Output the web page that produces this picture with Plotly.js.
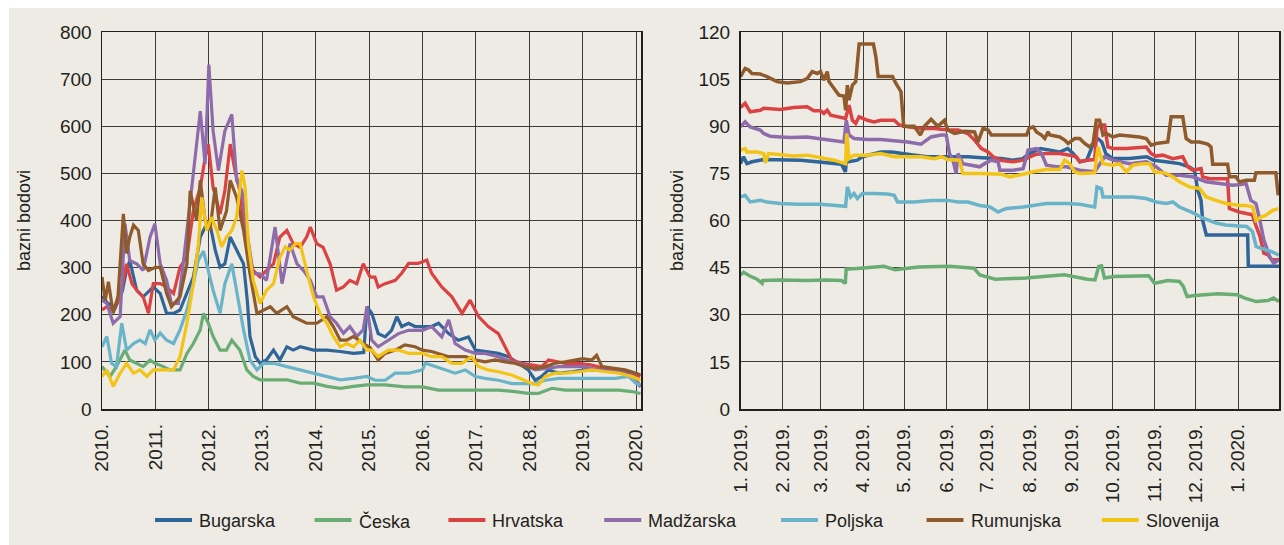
<!DOCTYPE html>
<html>
<head>
<meta charset="utf-8">
<script src="https://cdn.plot.ly/plotly-3.0.1.min.js"></script>
<style>
html,body{margin:0;padding:0;background:#fff;}
#chart{width:1284px;height:545px;}
</style>
</head>
<body>
<div id="chart"></div>
<script>
// ---------- DATA ----------
const SERIES = ['Bugarska','Česka','Hrvatska','Madžarska','Poljska','Rumunjska','Slovenija'];
const COLORS = ['#2f6598','#6aad74','#da4243','#8e6cab','#6ab4c9','#8f5b2c','#f3c418'];

// Left panel: time in years, values in basis points
const YEARS = [2010,2011,2012,2013,2014,2015,2016,2017,2018,2019,2020];
const YEAR_LABELS = ['2010.','2011.','2012.','2013.','2014.','2015.','2016.','2017.','2018.','2019.','2020.'];

const bg_t = [2010.0,2010.1,2010.25,2010.38,2010.45,2010.52,2010.65,2010.77,2010.96,2011.09,2011.21,2011.34,2011.46,2011.59,2011.71,2011.84,2011.93,2012.02,2012.12,2012.21,2012.30,2012.40,2012.52,2012.65,2012.72,2012.77,2012.87,2012.96,2013.08,2013.21,2013.33,2013.46,2013.58,2013.71,2013.96,2014.21,2014.46,2014.71,2014.9,2014.96,2015.05,2015.17,2015.30,2015.42,2015.52,2015.61,2015.74,2015.86,2016.0,2016.17,2016.30,2016.49,2016.67,2016.86,2016.99,2017.17,2017.42,2017.61,2017.80,2017.98,2018.11,2018.23,2018.36,2018.55,2018.80,2019.04,2019.29,2019.61,2019.86,2020.0,2020.08];
const bg_v = [240,225,215,250,290,315,252,238,259,245,203,203,210,245,280,365,386,393,337,301,308,365,337,308,230,154,111,97,104,125,104,132,125,132,125,125,122,118,120,217,203,160,153,167,196,175,182,175,175,175,182,160,146,153,125,122,118,111,97,83,61,69,83,76,79,83,83,79,76,61,47];

const cz_t = [2010.0,2010.15,2010.27,2010.43,2010.52,2010.65,2010.77,2010.9,2010.99,2011.15,2011.27,2011.46,2011.59,2011.71,2011.84,2011.90,2011.99,2012.08,2012.21,2012.33,2012.43,2012.58,2012.71,2012.83,2012.96,2013.21,2013.46,2013.71,2013.96,2014.21,2014.46,2014.71,2014.96,2015.30,2015.67,2016.0,2016.30,2016.67,2017.0,2017.42,2017.73,2017.98,2018.17,2018.42,2018.67,2019.0,2019.29,2019.67,2019.92,2020.08];
const cz_v = [90,69,90,125,104,97,90,104,97,90,83,83,118,139,168,203,182,154,125,125,146,125,83,69,62,62,62,55,55,48,44,48,51,51,47,47,40,40,40,40,37,33,33,44,40,40,40,40,37,33];

const hr_t = [2010.0,2010.09,2010.21,2010.34,2010.46,2010.56,2010.65,2010.77,2010.87,2010.96,2011.09,2011.21,2011.34,2011.46,2011.59,2011.71,2011.84,2011.93,2011.99,2012.08,2012.21,2012.30,2012.40,2012.49,2012.58,2012.71,2012.83,2012.96,2013.08,2013.21,2013.33,2013.46,2013.58,2013.71,2013.83,2013.90,2014.02,2014.14,2014.27,2014.39,2014.52,2014.64,2014.77,2014.89,2015.02,2015.11,2015.17,2015.30,2015.49,2015.61,2015.74,2015.92,2016.08,2016.17,2016.36,2016.55,2016.74,2016.89,2017.05,2017.23,2017.42,2017.55,2017.67,2017.86,2018.05,2018.23,2018.36,2018.67,2018.92,2019.17,2019.42,2019.67,2019.92,2020.08];
const hr_v = [210,217,210,238,308,266,252,238,203,266,266,259,245,301,322,421,470,533,562,470,414,463,562,506,463,343,294,280,294,308,365,379,351,343,365,386,351,343,308,252,259,273,266,308,280,280,259,266,273,288,309,309,316,288,259,238,203,231,196,175,160,132,104,97,93,90,104,97,97,93,86,83,76,69];

const hu_t = [2010.0,2010.09,2010.21,2010.34,2010.43,2010.52,2010.65,2010.77,2010.90,2010.99,2011.09,2011.21,2011.30,2011.43,2011.52,2011.62,2011.71,2011.84,2011.93,2012.0,2012.08,2012.18,2012.30,2012.43,2012.52,2012.62,2012.71,2012.83,2012.96,2013.08,2013.24,2013.37,2013.52,2013.65,2013.77,2013.90,2014.02,2014.14,2014.27,2014.39,2014.52,2014.64,2014.77,2014.89,2014.96,2015.05,2015.17,2015.36,2015.55,2015.74,2016.0,2016.17,2016.36,2016.49,2016.61,2016.80,2016.99,2017.17,2017.42,2017.67,2017.92,2018.11,2018.30,2018.55,2018.80,2019.0,2019.29,2019.61,2019.86,2020.0,2020.08];
const hu_v = [231,224,182,196,393,315,308,294,365,393,308,273,224,224,308,414,506,632,520,731,590,506,590,625,485,463,379,287,287,273,386,266,351,308,294,273,238,238,196,182,161,175,154,168,217,146,132,146,160,167,167,175,153,189,139,125,118,118,111,100,93,83,86,90,90,90,83,79,79,61,47];

const pl_t = [2010.0,2010.09,2010.18,2010.27,2010.37,2010.46,2010.59,2010.71,2010.81,2010.90,2010.99,2011.09,2011.21,2011.34,2011.46,2011.59,2011.71,2011.80,2011.90,2011.99,2012.08,2012.21,2012.30,2012.43,2012.52,2012.65,2012.77,2012.90,2013.02,2013.21,2013.46,2013.71,2013.96,2014.21,2014.46,2014.71,2014.96,2015.11,2015.30,2015.49,2015.74,2016.0,2016.05,2016.24,2016.42,2016.61,2016.80,2016.99,2017.17,2017.42,2017.67,2017.92,2018.11,2018.30,2018.55,2018.80,2019.04,2019.29,2019.61,2019.86,2020.0,2020.08];
const pl_v = [132,154,97,90,182,125,139,146,139,168,146,161,146,139,168,210,266,315,335,294,252,203,266,308,252,168,104,83,97,97,90,83,76,69,62,65,69,61,61,76,76,83,97,90,83,76,83,69,65,61,54,54,54,61,65,65,65,65,65,69,54,51];

const ro_t = [2010.0,2010.06,2010.12,2010.21,2010.30,2010.40,2010.46,2010.52,2010.59,2010.68,2010.77,2010.87,2010.99,2011.09,2011.21,2011.30,2011.46,2011.59,2011.65,2011.71,2011.77,2011.84,2011.93,2012.02,2012.12,2012.21,2012.33,2012.40,2012.52,2012.65,2012.77,2012.90,2013.02,2013.15,2013.27,2013.46,2013.58,2013.71,2013.83,2014.02,2014.21,2014.33,2014.46,2014.58,2014.71,2014.89,2015.02,2015.17,2015.30,2015.49,2015.67,2015.86,2016.0,2016.17,2016.30,2016.49,2016.80,2017.0,2017.17,2017.36,2017.55,2017.73,2017.92,2018.11,2018.30,2018.48,2018.67,2018.86,2019.0,2019.17,2019.26,2019.36,2019.61,2019.79,2020.0,2020.08];
const ro_v = [280,230,270,203,240,414,330,365,390,379,308,294,300,301,245,217,238,308,463,428,400,485,400,379,470,379,420,485,449,379,287,203,210,217,203,217,196,189,182,182,196,175,146,146,154,139,130,104,118,125,136,132,125,122,118,111,111,104,100,104,100,97,90,86,90,97,100,104,107,104,114,90,86,83,76,72];

const si_t = [2010.0,2010.09,2010.21,2010.34,2010.46,2010.59,2010.71,2010.84,2010.96,2011.09,2011.21,2011.34,2011.46,2011.59,2011.71,2011.80,2011.87,2011.96,2012.05,2012.15,2012.24,2012.33,2012.43,2012.52,2012.62,2012.68,2012.74,2012.83,2012.96,2013.08,2013.21,2013.33,2013.43,2013.52,2013.62,2013.71,2013.83,2013.96,2014.08,2014.21,2014.33,2014.46,2014.58,2014.71,2014.83,2014.96,2015.05,2015.17,2015.36,2015.55,2015.74,2016.0,2016.17,2016.36,2016.55,2016.74,2016.92,2017.05,2017.23,2017.42,2017.67,2017.92,2018.05,2018.17,2018.30,2018.48,2018.67,2018.92,2019.17,2019.42,2019.67,2019.92,2020.08];
const si_v = [69,83,48,76,97,76,83,69,83,83,83,83,111,182,266,344,449,379,407,379,344,365,379,407,506,470,351,273,224,252,266,322,344,337,351,351,294,238,203,182,154,132,139,132,146,125,125,111,125,125,118,118,111,111,97,97,111,90,83,79,72,61,54,51,69,76,76,79,83,79,76,69,61];

// Right panel: days since 1 Jan 2019, values in basis points
const MONTH_DAYS = [0,31,59,90,120,151,181,212,243,273,304,334,365];
const MONTH_LABELS = ['1. 2019.','2. 2019.','3. 2019.','4. 2019.','5. 2019.','6. 2019.','7. 2019.','8. 2019.','9. 2019.','10. 2019.','11. 2019.','12. 2019.','1. 2020.'];

const bg_d = [0,2.2,4.7,8.4,17,29,44,56,64,74,77,77.6,79.6,85.7,89.4,98,103,111,118,128,137,147,157,167,177,191,200,207,212,220,227,234,240,244,249,254,259.8,262,265,268,273,285,298,303,312,322,329,333,335.4,337.8,339,341.7,372,372.5,395];
const bg_r = [78.1,80.3,78.1,78.7,79.4,79.4,79.2,78.7,78.3,77.9,75.5,79.2,78.7,79.2,80.3,81.3,81.8,81.8,81.3,80.8,80.3,80.3,80.5,80.3,80,79.7,79.2,79.7,81.3,82.9,82.4,81.8,82.9,81.3,78.7,79.2,85.6,86.1,85,81.3,79.7,79.7,80.3,79.2,78.7,78.1,77.1,76,69.6,66.4,60,55.4,55.4,45.4,45.4];

const cz_d = [0,2.3,6.5,12.1,15.8,16.3,29,48.7,62.8,74.1,76.9,77.5,88.2,105.1,113.5,130.4,153,171.3,175.5,181.1,186.8,209.3,226.2,237.5,254.4,260,262.8,264.8,267,274.1,299.4,303.7,313.5,322,324.8,327.6,333.2,350.1,364.2,369.9,378.3,386.8,391,395];
const cz_r = [42.7,43.5,42.4,41.3,40,40.9,41.1,40.9,41.1,40.9,40,44.5,44.8,45.4,44.3,45.2,45.4,44.8,42.7,42,41.3,41.7,42.2,42.7,41.3,41.1,45.4,45.6,41.7,42.2,42.4,40,40.9,40.6,39,35.8,36.1,36.7,36.4,35.3,34.2,34.5,35.3,34.2];

const hr_d = [0,3.4,7.1,14.5,17,29.2,39.1,48.9,53.8,58.7,61.2,63.6,66.1,71,77.1,79.6,82.1,84.5,87,93.1,98,102.9,112.8,116.5,122.6,132.4,142.3,152.1,159.5,166.8,171.7,176.7,181.6,185.3,190.3,200,207.3,211,217.1,224.4,234.2,241.5,246.4,248.8,253.7,259.8,261.5,263.4,267.1,269.5,273.2,283,297.6,301.2,304.9,309.8,317.1,324.4,328.1,331.7,337.8,339,344,357.3,358.6,365.9,369.9,375.5,378.3,381.1,383.9,386.8,389.6,395];
const hr_r = [96,97.3,94.6,95.1,95.7,95.3,96,96.2,94.9,94.9,94.1,95.1,93.5,93,92.5,96.7,91.9,90.9,93,91.9,91.4,91.9,91.9,90.4,89.8,89.3,89.3,88.8,88.8,87.7,85.6,82.9,81.8,80.3,79.2,78.7,79.2,80,81.1,81.3,81.3,80.8,80.3,78.7,79.2,79.4,89.3,90.4,90.4,83.4,82.9,82.9,83.4,81.3,80.5,80.8,79.7,80.3,77.1,76,76.5,73.9,73.3,73.3,63.8,62.7,62.3,61.8,58.1,54.9,49.6,49.1,47.5,47.5];

const hu_d = [0,3.4,7.1,14.5,17,21.9,29.2,36.6,48.9,58.7,68.6,75.9,77.6,79.6,83.3,93.1,102.9,112.8,122.6,132.4,139.8,147.2,150.9,153.3,155.8,158.2,159.5,163.1,169.3,175.4,179.1,184,188.9,190.3,200,207.3,211,217.1,220.8,224.4,231.7,239,248.8,259.8,267.1,273.2,285.4,297.6,304.9,312.2,322,331.7,341.5,351.2,361,368.3,370.8,374.4,378.1,380.5,383.9,388.2,391,395];
const hu_r = [89.8,91.4,89.8,88.8,87.7,86.8,86.6,86.4,86.6,86.1,85.6,85,91.9,87.2,86.1,85.8,85.8,85.4,85,84.3,86.6,87.2,87.2,81.3,79.2,75,81.3,78.1,77.6,77.1,78.1,79.2,78.7,76,76,76.5,82.4,82.9,81.3,77.6,77.1,77.1,76,75.5,80.3,79.2,78.1,78.7,77.1,74.4,74.4,73.9,72.3,71.8,71.2,71.5,71.8,66.4,65.4,61,53.8,48.5,46.4,47.5];

const pl_d = [0,3.4,7.1,14.5,19.4,29.2,41.5,58.7,77.1,78.4,80.8,83.3,85.7,89.4,98,107.9,112.8,115.2,127.5,139.8,152.1,159.5,166.8,175.6,183,189,191.5,195.1,207.3,224.4,239,248.8,259.8,261.5,264.7,265.9,273.2,287.8,297.6,304.9,312.2,317.1,322,331.7,338.9,344.5,348.7,355.8,364.2,371.3,375.5,378.3,383.9,389.6,395];
const pl_r = [67.5,68,65.9,66.4,65.9,65.4,65.2,65.2,64.5,70.7,67.5,68.6,67,68.6,68.6,68.4,68,65.9,65.9,66.4,66.4,65.9,65.9,64.8,64.3,62.7,63.2,63.8,64.3,65.4,65.4,65.2,64.3,70.7,70.2,67.5,67.5,67.5,67,65.9,65.4,65.9,64.3,62.5,60.8,60,59.2,58.6,58.3,58.1,56.5,51.7,50.9,50.1,49];

const ro_d = [0,3.4,5.9,8.4,14.5,19.4,26.8,34.2,44,48.9,52.6,56.3,58.7,61.2,63.6,64.9,68.6,72.2,75.9,77.1,78.4,79.6,82.1,84.5,87,97.5,99.3,101,111.5,114,117.7,119.7,127.5,131.9,134.9,139.8,144.7,149.6,152.1,157,164.4,171.7,174.2,177.9,181.6,184,209.8,211.7,214.7,217.1,220.8,223.2,225.6,226.9,234.2,237.8,240.3,245.1,248.8,252.5,256.1,258.6,261,263.4,265.9,268.3,273.2,278.1,292.7,297.6,301.2,304.9,313.4,315.9,324.4,326.9,330.5,336.6,342.7,345.1,346.4,357.3,358.6,363.4,365.9,370.8,376.9,378.1,392.7,394.4];
const ro_r = [105.8,108.4,107.9,106.8,106.6,105.8,104.2,103.8,104.2,105.2,107.4,106.8,107.4,104.7,107.4,104.2,102,99.9,99.6,95.1,103.1,98.3,103.1,104.2,116.2,116.2,112.1,105.8,105.8,103.6,101,90,90,87.2,90,92.2,90,91.9,88.8,87.7,88.4,88.2,85,89.3,88.8,87.2,87.2,89.3,89.8,88.2,87.2,86.1,88.2,87.2,86.6,85.6,84.5,86.1,86.1,84.5,83.4,84.5,91.9,91.9,87.2,87.7,86.6,87.2,86.6,86.1,84,84.5,85,93,93,86.1,85,85,84.3,83.4,77.9,77.9,73.9,73.9,72.3,72.8,72.8,75.2,75.2,68];

const si_d = [0,3.4,4.7,12,17,18.2,20.6,29.2,39.1,48.9,58.7,68.6,77.1,77.9,79.6,83.3,93.1,102.9,112.8,122.6,132.4,137.3,142.3,147.2,152.1,160.7,163.1,169.3,176.7,191.4,197.6,207.3,214.7,224.4,234.2,237.8,241.5,245.1,248.8,259.8,262.2,265.9,273.2,278.1,283,287.8,295.1,300,303.7,312.2,317.1,322,329.3,336.6,341.5,348.8,356.1,365.9,370.8,375.6,378.1,381.8,385.4,390.3,394.4];
const si_r = [82.4,82.9,81.8,81.8,81.3,78.3,81.3,80.8,80.5,80.8,80,79.2,78.1,87.7,79.7,80.8,80.8,81.3,80.3,80.3,80.3,80,79.7,80.3,79.4,79.2,75,75,75,74.7,73.9,74.7,75.5,76.2,76.2,79.2,78.1,75.5,75,75.2,83.4,78.1,77.6,78.1,75.5,77.6,78.1,78.1,75.5,75,73.9,72.3,70.7,70.2,67.5,66.4,65.4,64.8,64.8,64.3,60,61.1,61.7,63.2,63.8];

const Y_TITLE = 'bazni bodovi';

// ---------- LAYOUT HELPERS ----------
const W = 1284, H = 545, TOP = 32, BOT = 409;
const px = x => x / W;
const py = y => (BOT - y) / (BOT - TOP);
const FONT = '"Liberation Sans", Arial, Helvetica, sans-serif';
const FS = 18;      // legend + titles
const FS_TICK = 19; // tick labels
const TXT = '#231f20';
const BEIGE = '#eeebe4';
const GRID = '#3c3c3c';

const leftSets  = [[bg_t,bg_v],[cz_t,cz_v],[hr_t,hr_v],[hu_t,hu_v],[pl_t,pl_v],[ro_t,ro_v],[si_t,si_v]];
const rightSets = [[bg_d,bg_r],[cz_d,cz_r],[hr_d,hr_r],[hu_d,hu_r],[pl_d,pl_r],[ro_d,ro_r],[si_d,si_r]];

const traces = [];
SERIES.forEach((name, i) => {
  traces.push({x: leftSets[i][0], y: leftSets[i][1], type: 'scatter', mode: 'lines', name: name,
    xaxis: 'x', yaxis: 'y', line: {color: COLORS[i], width: 3.2}, showlegend: false, hoverinfo: 'skip'});
});
SERIES.forEach((name, i) => {
  traces.push({x: rightSets[i][0], y: rightSets[i][1], type: 'scatter', mode: 'lines', name: name,
    xaxis: 'x2', yaxis: 'y2', line: {color: COLORS[i], width: 3.5}, showlegend: false, hoverinfo: 'skip'});
});

// manual legend (sample line + label)
const LEG_X = [155, 314.5, 448.4, 604.2, 781, 926.5, 1101.8];
const LEG_Y = 520;
const shapes = [{type: 'rect', xref: 'paper', yref: 'paper', x0: px(9), x1: 1, y0: py(H + 2), y1: py(8),
  fillcolor: BEIGE, line: {width: 0}, layer: 'below'}];
const annotations = [];
SERIES.forEach((name, i) => {
  shapes.push({type: 'line', xref: 'paper', yref: 'paper', x0: px(LEG_X[i]), x1: px(LEG_X[i] + 37),
    y0: py(LEG_Y), y1: py(LEG_Y), line: {color: COLORS[i], width: 4}});
  annotations.push({xref: 'paper', yref: 'paper', x: px(LEG_X[i] + 42), y: py(LEG_Y + 1), text: name,
    showarrow: false, xanchor: 'left', yanchor: 'middle', font: {family: FONT, size: FS, color: TXT}});
});

const axisCommon = {showgrid: true, gridcolor: GRID, gridwidth: 1, zeroline: false, showline: true,
  linecolor: '#231f20', linewidth: 1.5, mirror: true, ticks: 'outside', ticklen: 6,
  tickcolor: 'rgba(0,0,0,0)', tickfont: {family: FONT, size: FS_TICK, color: TXT}, fixedrange: true};

const layout = {
  width: W, height: H,
  margin: {l: 0, r: 0, t: TOP, b: H - BOT, pad: 0},
  paper_bgcolor: '#ffffff', plot_bgcolor: 'rgba(0,0,0,0)',
  showlegend: false, hovermode: false,
  font: {family: FONT, size: FS, color: TXT},
  xaxis: Object.assign({}, axisCommon, {domain: [px(102), px(641)], range: [2010, 2020.09],
    tickmode: 'array', tickvals: YEARS, ticktext: YEAR_LABELS, tickangle: -90, anchor: 'y'}),
  yaxis: Object.assign({}, axisCommon, {domain: [0, 1], range: [0, 800], dtick: 100, tick0: 0, anchor: 'x',
    ticklen: 5, title: {text: Y_TITLE, font: {family: FONT, size: FS, color: TXT}, standoff: 24}}),
  xaxis2: Object.assign({}, axisCommon, {domain: [px(740.5), px(1279)], range: [0, 395],
    tickmode: 'array', tickvals: MONTH_DAYS, ticktext: MONTH_LABELS, tickangle: -90, anchor: 'y2'}),
  yaxis2: Object.assign({}, axisCommon, {domain: [0, 1], range: [0, 120], dtick: 15, tick0: 0, anchor: 'x2',
    ticklen: 5, title: {text: Y_TITLE, font: {family: FONT, size: FS, color: TXT}, standoff: 10}}),
  shapes: shapes,
  annotations: annotations
};

Plotly.newPlot('chart', traces, layout, {staticPlot: true, displayModeBar: false});
</script>
</body>
</html>
